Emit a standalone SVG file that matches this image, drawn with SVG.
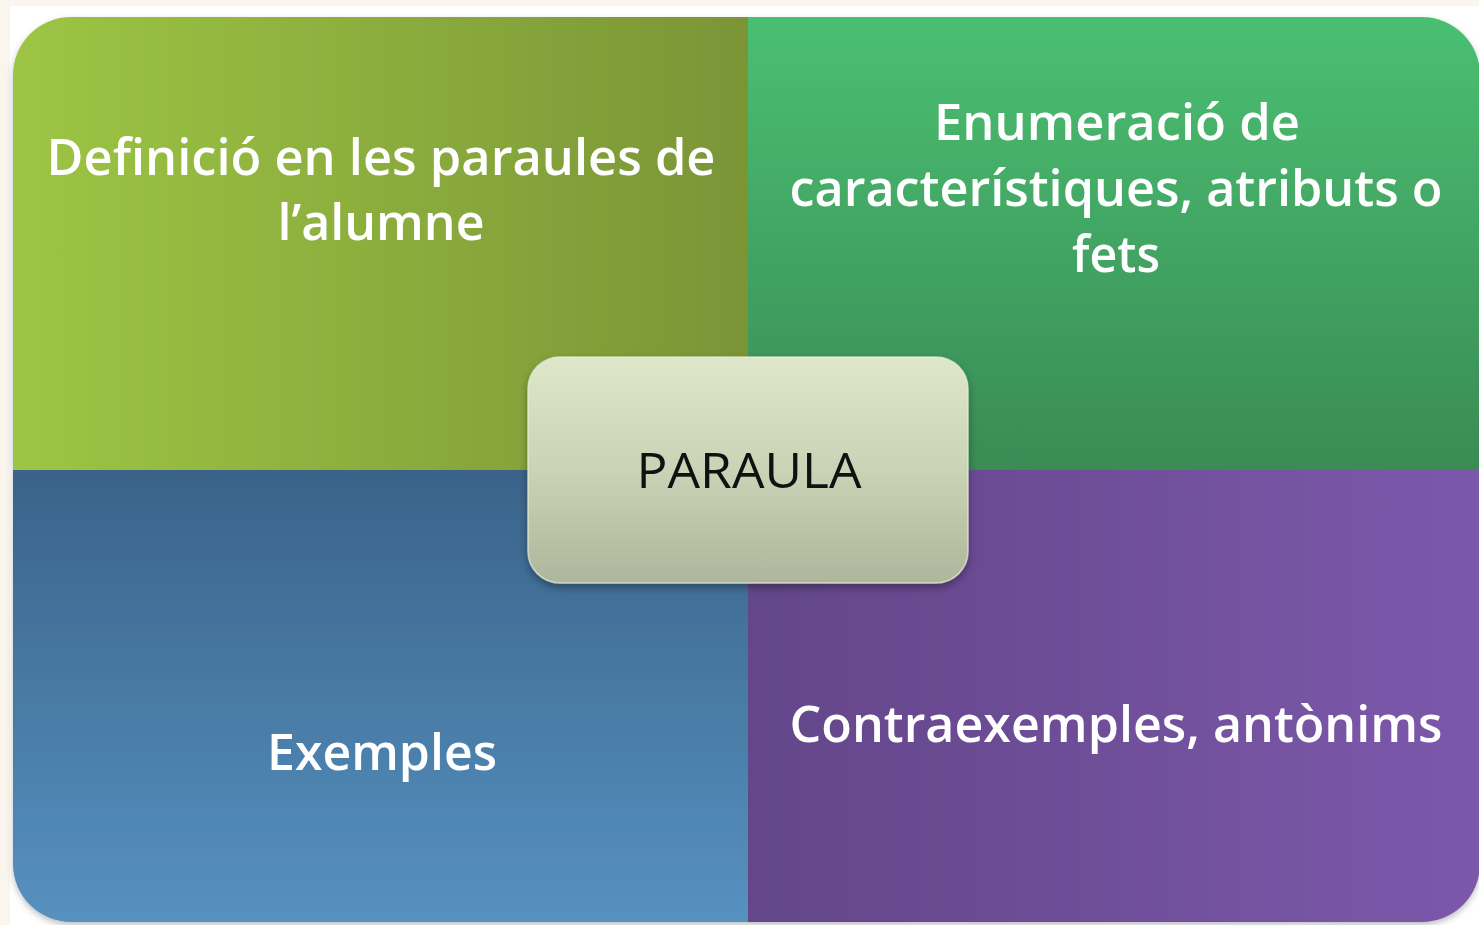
<svg xmlns="http://www.w3.org/2000/svg" width="1479" height="925" viewBox="0 0 1479 925">
<defs>
<linearGradient id="gTL" x1="0" y1="0" x2="1" y2="0"><stop offset="0" stop-color="#9DC544"/><stop offset="1" stop-color="#7A9536"/></linearGradient>
<linearGradient id="gTR" x1="0" y1="0" x2="0" y2="1"><stop offset="0" stop-color="#4ABF72"/><stop offset="1" stop-color="#3A8B55"/></linearGradient>
<linearGradient id="gBL" x1="0" y1="0" x2="0" y2="1"><stop offset="0" stop-color="#3A6389"/><stop offset="1" stop-color="#5691C0"/></linearGradient>
<linearGradient id="gBR" x1="0" y1="0" x2="1" y2="0"><stop offset="0" stop-color="#634689"/><stop offset="1" stop-color="#7C58AB"/></linearGradient>
<linearGradient id="gC" x1="0" y1="0" x2="0" y2="1"><stop offset="0" stop-color="#DEE7CA"/><stop offset="0.5" stop-color="#CBD3B6"/><stop offset="1" stop-color="#AEB69B"/></linearGradient>
<clipPath id="clipPanel"><rect x="13" y="17" width="1467" height="905" rx="58"/></clipPath>
<filter id="sh" x="-10%" y="-10%" width="120%" height="130%"><feDropShadow dx="0" dy="4" stdDeviation="4" flood-color="#000" flood-opacity="0.35"/></filter>
<filter id="sh2" x="-5%" y="-5%" width="110%" height="110%"><feDropShadow dx="0" dy="3" stdDeviation="3" flood-color="#000" flood-opacity="0.25"/></filter>
</defs>
<style>
.w{font-family:"Open Sans","Noto Sans",sans-serif;font-size:50px;font-weight:600;fill:#FFFFFF;text-anchor:middle}
.k{font-family:"Open Sans","Noto Sans",sans-serif;font-size:50px;fill:#111111;text-anchor:middle}
</style>
<rect x="0" y="0" width="1479" height="925" fill="#FAF6EE"/>
<rect x="10" y="6" width="1469" height="919" fill="#FFFFFF"/>
<g filter="url(#sh2)">
<g clip-path="url(#clipPanel)">
<g id="q-definicio">
<rect x="13" y="17" width="735" height="453" fill="url(#gTL)"/>
<text class="w" x="381" y="175" textLength="669" lengthAdjust="spacingAndGlyphs">Definició en les paraules de</text>
<text class="w" x="381" y="240" textLength="207" lengthAdjust="spacingAndGlyphs">l’alumne</text>
</g>
<g id="q-enumeracio">
<rect x="748" y="17" width="732" height="453" fill="url(#gTR)"/>
<text class="w" x="1117" y="140" textLength="366" lengthAdjust="spacingAndGlyphs">Enumeració de</text>
<text class="w" x="1116" y="206" textLength="653" lengthAdjust="spacingAndGlyphs">característiques, atributs o</text>
<text class="w" x="1116" y="272" textLength="88" lengthAdjust="spacingAndGlyphs">fets</text>
</g>
<g id="q-exemples">
<rect x="13" y="470" width="735" height="452" fill="url(#gBL)"/>
<text class="w" x="382" y="770" textLength="230" lengthAdjust="spacingAndGlyphs">Exemples</text>
</g>
<g id="q-contraexemples">
<rect x="748" y="470" width="732" height="452" fill="url(#gBR)"/>
<text class="w" x="1116" y="742" textLength="653" lengthAdjust="spacingAndGlyphs">Contraexemples, antònims</text>
</g>
</g>
</g>
<g id="connectors"></g>
<g id="n-paraula">
<rect x="528" y="357" width="440" height="226" rx="32" fill="url(#gC)" stroke="#E9EEDC" stroke-opacity="0.7" stroke-width="1.5" filter="url(#sh)"/>
<text class="k" x="749" y="488" textLength="225" lengthAdjust="spacingAndGlyphs">PARAULA</text>
</g>
</svg>
